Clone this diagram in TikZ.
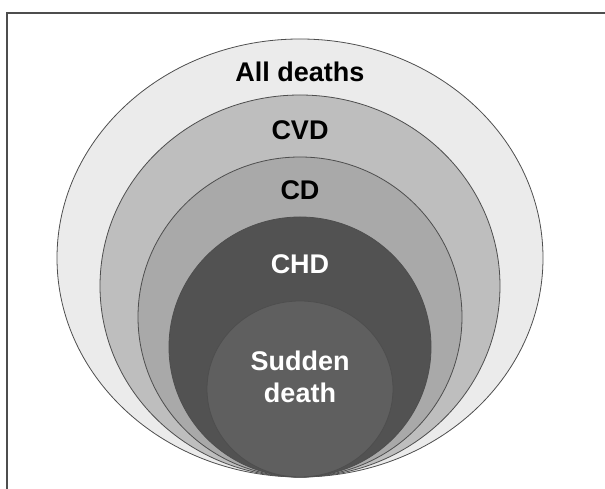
\documentclass[tikz,border=0pt]{standalone}
\usepackage{fontspec}
\setmainfont{Liberation Sans}
\usetikzlibrary{shapes.geometric}
\tikzset{>=latex}

\definecolor{rimgray}{HTML}{4E4E4E}
\definecolor{bandA}{HTML}{EBEBEB}
\definecolor{bandB}{HTML}{BEBEBE}
\definecolor{bandC}{HTML}{A9A9A9}
\definecolor{bandD}{HTML}{525252}
\definecolor{bandE}{HTML}{5F5F5F}

\tikzset{
  band/.style={ellipse,draw=rimgray,line width=0.8pt,inner sep=0pt},
  tag/.style={font=\bfseries\fontsize{27}{32}\selectfont,align=center,inner sep=0pt},
}

\begin{document}
\begin{tikzpicture}[x=1pt,y=1pt]
  % limits
  \def\cx{300}  % centre line
  \def\yb{12}   % common bottom of the bands
  \useasboundingbox (0,0) rectangle (605,489);

  % help functions
        % one band: name, x radius, y radius, fill
  \def\band(#1,#2,#3,#4){
    \node[band,fill=#4,minimum width=2*#2,minimum height=2*#3] (#1) at (\cx,{\yb+#3}) {};}

  % frame
  \draw[line width=1.2pt,rimgray] (605,476) -- (7,476) -- (7,0);

  % BANDS
    \band(alldeaths,243,219,bandA)
    \band(cvd,200,191,bandB)
    \band(cd,162,160,bandC)
    \band(chd,131,130,bandD)
    \band(sudden,93,88,bandE)

  % LABELS
    \node[tag,anchor=base] (alldeathstag) at (\cx,407) {All deaths};
    \node[tag,anchor=base] (cvdtag) at (\cx,349) {CVD};
    \node[tag,anchor=base] (cdtag) at (\cx,289) {CD};
    \node[tag,anchor=base,white] (chdtag) at (\cx,215) {CHD};
    \node[tag,white] (suddentag) at (\cx,112) {Sudden\\death};

\end{tikzpicture}
\end{document}
